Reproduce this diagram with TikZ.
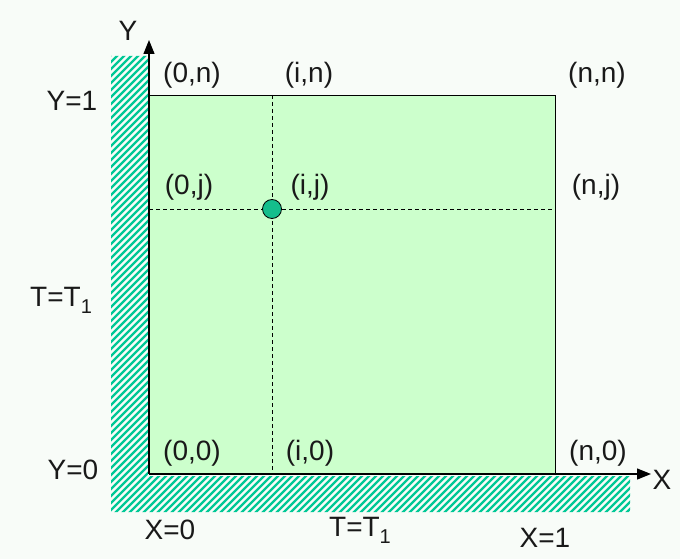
\documentclass[tikz,border=0pt]{standalone}
\usepackage{fontspec}
\setmainfont{Liberation Sans}
\usetikzlibrary{arrows.meta}
\definecolor{bg}{RGB}{248,252,248}
\definecolor{hatch}{RGB}{0,200,150}
\definecolor{plate}{RGB}{204,255,204}
\definecolor{dotc}{RGB}{20,190,140}
\newcommand{\subone}{{\fontsize{20}{20}\selectfont\raisebox{-7pt}{1}}}
\begin{document}
\begin{tikzpicture}[x=1pt,y=-1pt,
  lbl/.style={font=\fontsize{28}{30}\selectfont, inner sep=0pt, text=black!90},
  axisline/.style={line width=1.2pt, -{Triangle[length=14pt,width=11pt]}},
  gridline/.style={dashed, dash pattern=on 4pt off 3pt, line width=0.8pt}]
\fill[bg] (0,0) rectangle (680,559);
\useasboundingbox (0,0) rectangle (680,559);
% hatched walls
\begin{scope}
\clip (111,56) -- (148,56) -- (148,476) -- (630,476) -- (630,512) -- (111,512) -- cycle;
\foreach \k in {0,7,...,1120}{
  \draw[hatch, line width=2.3pt] (\k-480,520) -- ++(520,-520);
}
\end{scope}
% plate
\draw[fill=plate, line width=0.8pt] (149,95) rectangle (555,474);
\coordinate (o) at (149,474);
\coordinate (ytip) at (149,40);
\coordinate (xtip) at (651,474);
\coordinate (vt) at (272,95);
\coordinate (vb) at (272,474);
\coordinate (hl) at (149,209);
\coordinate (hr) at (555,209);
\draw[gridline] (vt) -- (vb);
\draw[gridline] (hl) -- (hr);
\draw[axisline] (o) -- (ytip);
\draw[axisline] (o) -- (xtip);
\node[circle, fill=dotc, draw=black, line width=0.8pt, minimum size=19pt, inner sep=0pt] (ij) at (272,209) {};
% labels
\node[lbl] (Y) at (128,31) {Y};
\node[lbl] (X) at (662,480) {X};
\node[lbl] (n0n) at (192,75) {(0,n)};
\node[lbl] (nin) at (309,75) {(i,n)};
\node[lbl] (nnn) at (597,75) {(n,n)};
\node[lbl] (Y1) at (72,101) {Y=1};
\node[lbl] (n0j) at (189,187) {(0,j)};
\node[lbl] (nij) at (310,187) {(i,j)};
\node[lbl] (nnj) at (596,187) {(n,j)};
\node[lbl, anchor=west] (TL) at (30,300) {T=T\subone};
\node[lbl] (Y0) at (73,470) {Y=0};
\node[lbl] (n00) at (192,453) {(0,0)};
\node[lbl] (ni0) at (310,453) {(i,0)};
\node[lbl] (nn0) at (598,453) {(n,0)};
\node[lbl] (X0) at (170,530) {X=0};
\node[lbl] (TB) at (360,530) {T=T\subone};
\node[lbl] (X1) at (545,538) {X=1};
\end{tikzpicture}
\end{document}
